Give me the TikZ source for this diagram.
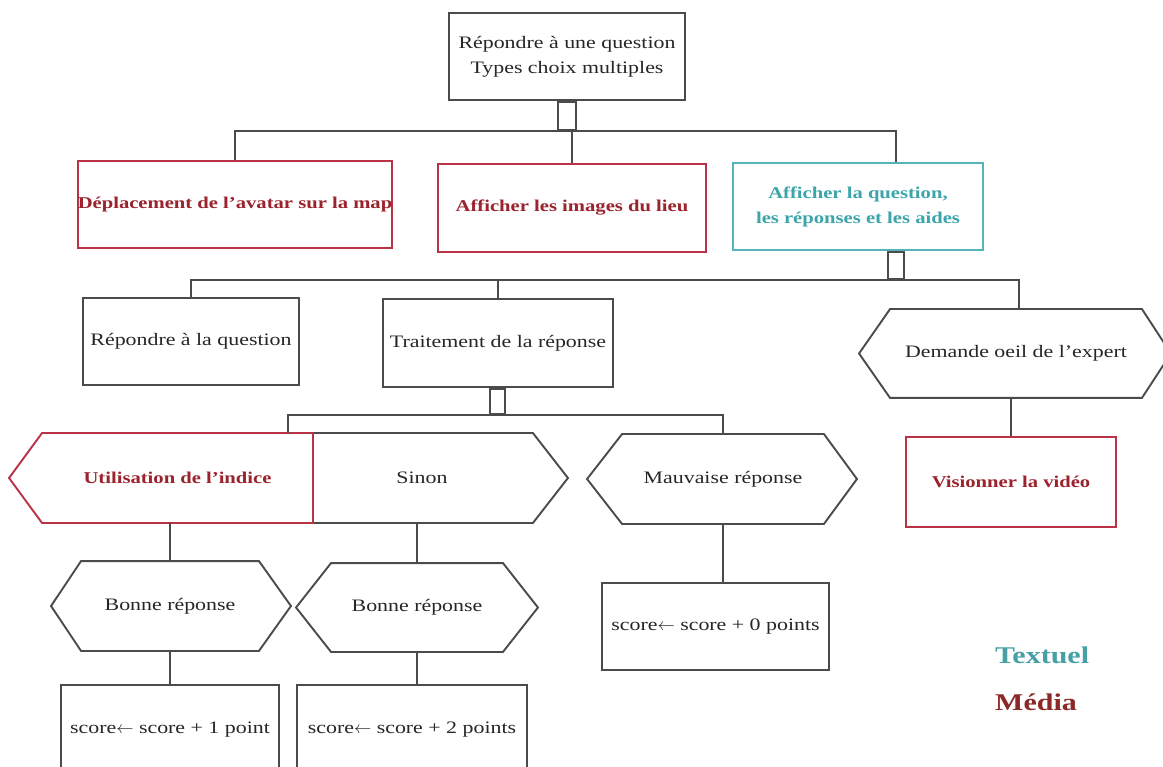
\documentclass[tikz,border=0pt]{standalone}
\usepackage{fontspec}
\setmainfont{Liberation Serif}[FakeStretch=1.25]
\usetikzlibrary{positioning,calc}
\definecolor{mediared}{RGB}{155,35,45}
\definecolor{mediaframe}{RGB}{185,50,70}
\definecolor{textcyan}{RGB}{60,165,170}
\definecolor{textframe}{RGB}{85,180,185}
\definecolor{treeline}{RGB}{75,75,75}
\definecolor{legcyan}{RGB}{70,160,165}
\definecolor{legred}{RGB}{140,40,40}
% hexagon round a rectangular node: #2 left tip, #3 right tip
\providecommand{\hexa}[3]{(#1.north west) -- (#1.north east) -- ([xshift=#3]#1.east)
  -- (#1.south east) -- (#1.south west) -- ([xshift=-#2]#1.west) -- cycle}
\tikzset{
  tbox/.style   ={draw=treeline, line width=1.9pt, fill=white, align=center,
                  inner sep=0pt, text=black!85, font=\fontsize{17.5}{27}\selectfont},
  tmedia/.style ={tbox, draw=mediaframe, text=mediared,
                  font=\fontsize{16.5}{25}\selectfont\bfseries},
  ttext/.style  ={tmedia, draw=textframe, text=textcyan},
  thex/.style   ={tbox, draw=none, fill=none},
  tseq/.style   ={draw=treeline, line width=1.9pt, inner sep=0pt, anchor=north},
  tline/.style  ={draw=treeline, line width=1.9pt},
  tlegend/.style={font=\fontsize{24}{28}\selectfont\bfseries, anchor=west, inner sep=0pt},
}
\begin{document}
\begin{tikzpicture}[x=1pt, y=-1pt]
  \fill[white] (0,0) rectangle (1163,767);
  \useasboundingbox (0,0) rectangle (1163,767);

  % ---- (1) tache principale ----
  \node[tbox, minimum width=236, minimum height=87] (top) at (567,56.5)
    {\raisebox{-2pt}{Répondre à une question}\\Types choix multiples};
  \node[tseq, minimum width=18, minimum height=28] (seq1) at (top.south) {};

  % ---- (2) premier niveau ----
  \node[tmedia, minimum width=312, minimum height=87] (dep) at (235,204.5)
    {Déplacement de l'avatar sur la map};
  \node[tmedia, minimum width=268, minimum height=88] (img) at (572,208)
    {Afficher les images du lieu};
  \node[ttext, minimum width=250, minimum height=87] (aq) at (858,206.5)
    {Afficher la question,\\les réponses et les aides};
  \node[tseq, minimum width=16, minimum height=27] (seq2) at ([xshift=38pt]aq.south) {};

  % ---- (3) second niveau ----
  \node[tbox, minimum width=216, minimum height=87] (rep) at (191,341.5)
    {Répondre à la question};
  \node[tbox, minimum width=230, minimum height=88] (trait) at (498,343)
    {Traitement de la réponse};
  \node[tseq, minimum width=15, minimum height=25] (seq3) at ([xshift=-0.5pt]trait.south) {};
  \node[thex, minimum width=250, minimum height=87] (dem) at (1016,353.5)
    {Demande oeil de l'expert};
  \node[tmedia, minimum width=210, minimum height=90] (vis) at (1011,482)
    {Visionner la vidéo};

  % ---- (4) choix ----
  \node[thex, minimum width=220, minimum height=88] (sinon) at (422,478) {Sinon};
  \node[thex, minimum width=269, minimum height=88, text=mediared,
        font=\fontsize{16.5}{25}\selectfont\bfseries] (util) at (177.5,478)
    {Utilisation de l'indice};
  \node[thex, minimum width=200, minimum height=88] (mauv) at (723,479)
    {Mauvaise réponse};

  \node[thex, minimum width=176, minimum height=88] (bon1) at (170,606) {Bonne réponse};
  \node[thex, minimum width=170, minimum height=87] (bon2) at (417,607.5) {Bonne réponse};

  % ---- (5) score ----
  \node[tbox, minimum width=218, minimum height=90] (sc1) at (170,730)
    {score$\leftarrow$ score + 1 point};
  \node[tbox, minimum width=230, minimum height=90] (sc2) at (412,730)
    {score$\leftarrow$ score + 2 points};
  \node[tbox, minimum width=227, minimum height=87] (sc0) at (715.5,626.5)
    {score$\leftarrow$ score + 0 points};

  % ---- hexagones ----
  \draw[tline] \hexa{dem}{31pt}{29pt};
  \draw[tline] \hexa{mauv}{35pt}{33pt};
  \draw[tline] \hexa{bon1}{30pt}{32pt};
  \draw[tline] \hexa{bon2}{35pt}{35pt};
  \draw[tline] (sinon.north west) -- (sinon.north east) -- ([xshift=35pt]sinon.east)
    -- (sinon.south east) -- (sinon.south west);
  \draw[tline, draw=mediaframe] (util.north east) -- (util.north west)
    -- ([xshift=-33pt]util.west) -- (util.south west) -- (util.south east) -- cycle;

  % ---- connecteurs ----
  \draw[tline] (dep.north) |- (seq1.south) -| ([xshift=38pt]aq.north);
  \draw[tline] (seq1.south) -| (img.north);

  \draw[tline] (rep.north) |- (seq2.south) -| ([xshift=3pt]dem.north);
  \draw[tline] (seq2.south) -| (trait.north);

  \draw[tline] ([xshift=-25pt]util.north east) |- (seq3.south) -| (mauv.north);

  \draw[tline] (util.south -| bon1.north) -- (bon1.north);
  \draw[tline] (sinon.south -| bon2.north) -- (bon2.north);
  \draw[tline] (bon1.south) -- (bon1.south |- sc1.north);
  \draw[tline] (bon2.south) -- (bon2.south |- sc2.north);
  \draw[tline] (mauv.south) -- (mauv.south |- sc0.north);
  \draw[tline] (vis.north |- dem.south) -- (vis.north);

  % ---- legende ----
  \node[tlegend, text=legcyan] (legt) at (995,655) {Textuel};
  \node[tlegend, text=legred] (legm) at (995,702) {Média};

\end{tikzpicture}
\end{document}
